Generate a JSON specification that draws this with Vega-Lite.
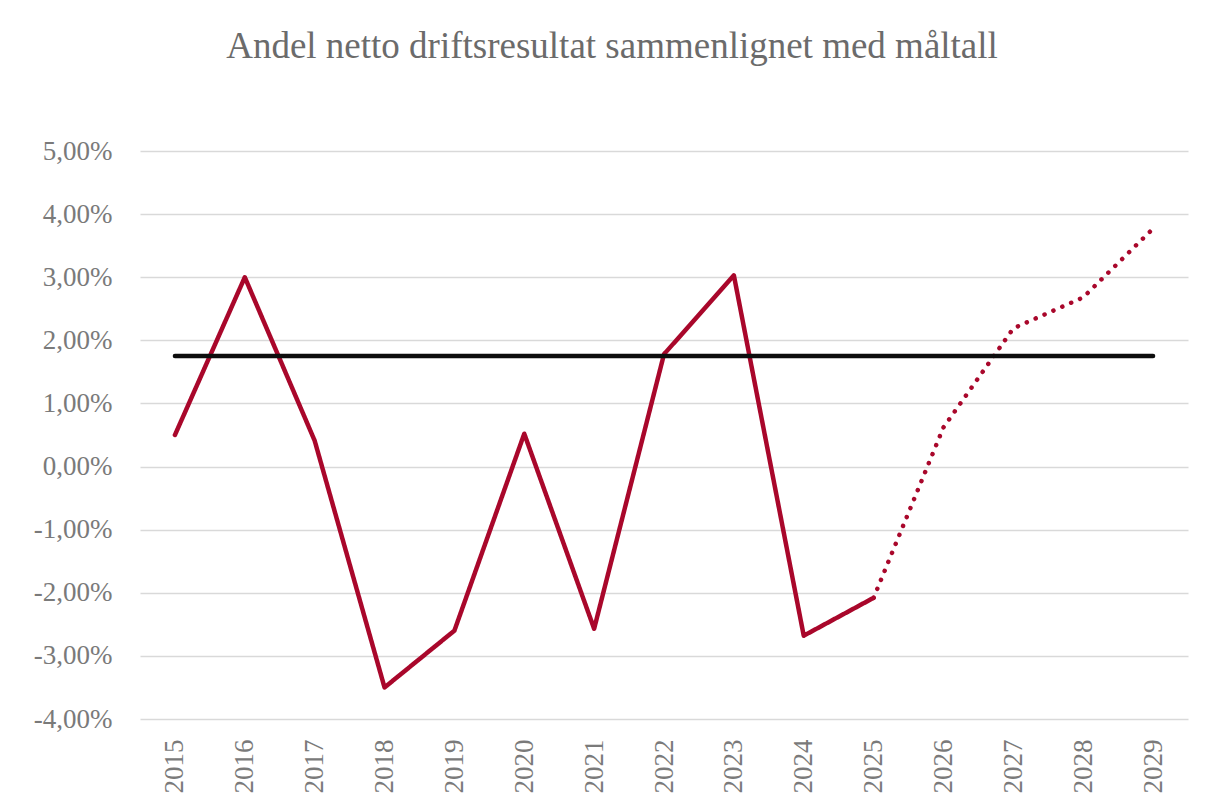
{
  "$schema": "https://vega.github.io/schema/vega-lite/v6.json",
  "autosize": {"type": "none"},
  "padding": {"left": 140, "top": 151, "right": 25, "bottom": 90},
  "width": 1048,
  "height": 568,
  "background": "white",
  "config": {
    "locale": {"number": {"decimal": ",", "thousands": " ", "grouping": [3], "currency": ["", " kr"], "minus": "-"}},
    "view": {"stroke": null},
    "font": "'Liberation Serif', 'DejaVu Serif', serif"
  },
  "title": {
    "text": "Andel netto driftsresultat sammenlignet med måltall",
    "font": "'Liberation Serif', 'DejaVu Serif', serif",
    "fontSize": 37,
    "fontWeight": "normal",
    "color": "#6b6b6b",
    "anchor": "middle",
    "dx": -52,
    "offset": 71
  },
  "data": {
    "values": [
      {"year": "2015", "value": 0.0050, "series": "actual"},
      {"year": "2016", "value": 0.0300, "series": "actual"},
      {"year": "2017", "value": 0.0041, "series": "actual"},
      {"year": "2018", "value": -0.0350, "series": "actual"},
      {"year": "2019", "value": -0.0260, "series": "actual"},
      {"year": "2020", "value": 0.0052, "series": "actual"},
      {"year": "2021", "value": -0.0257, "series": "actual"},
      {"year": "2022", "value": 0.0178, "series": "actual"},
      {"year": "2023", "value": 0.0303, "series": "actual"},
      {"year": "2024", "value": -0.0268, "series": "actual"},
      {"year": "2025", "value": -0.0208, "series": "actual"},
      {"year": "2025", "value": -0.0208, "series": "forecast"},
      {"year": "2026", "value": 0.0062, "series": "forecast"},
      {"year": "2027", "value": 0.0219, "series": "forecast"},
      {"year": "2028", "value": 0.0268, "series": "forecast"},
      {"year": "2029", "value": 0.0377, "series": "forecast"},
      {"year": "2015", "value": 0.0175, "series": "target"},
      {"year": "2016", "value": 0.0175, "series": "target"},
      {"year": "2017", "value": 0.0175, "series": "target"},
      {"year": "2018", "value": 0.0175, "series": "target"},
      {"year": "2019", "value": 0.0175, "series": "target"},
      {"year": "2020", "value": 0.0175, "series": "target"},
      {"year": "2021", "value": 0.0175, "series": "target"},
      {"year": "2022", "value": 0.0175, "series": "target"},
      {"year": "2023", "value": 0.0175, "series": "target"},
      {"year": "2024", "value": 0.0175, "series": "target"},
      {"year": "2025", "value": 0.0175, "series": "target"},
      {"year": "2026", "value": 0.0175, "series": "target"},
      {"year": "2027", "value": 0.0175, "series": "target"},
      {"year": "2028", "value": 0.0175, "series": "target"},
      {"year": "2029", "value": 0.0175, "series": "target"}
    ]
  },
  "mark": {"type": "line", "strokeWidth": 4.5, "strokeCap": "round", "strokeJoin": "round"},
  "encoding": {
    "x": {
      "field": "year",
      "type": "ordinal",
      "scale": {"type": "point", "padding": 0.5},
      "axis": {
        "title": null,
        "labelAngle": -90,
        "labelAlign": "right",
        "labelBaseline": "middle",
        "labelFont": "'Liberation Serif', 'DejaVu Serif', serif",
        "labelFontSize": 27,
        "labelColor": "#7a7a7a",
        "labelPadding": 20,
        "ticks": false,
        "domain": false,
        "grid": false
      }
    },
    "y": {
      "field": "value",
      "type": "quantitative",
      "scale": {"domain": [-0.04, 0.05], "nice": false, "zero": false},
      "axis": {
        "title": null,
        "values": [-0.04, -0.03, -0.02, -0.01, 0, 0.01, 0.02, 0.03, 0.04, 0.05],
        "format": ".2%",
        "labelFont": "'Liberation Serif', 'DejaVu Serif', serif",
        "labelFontSize": 27,
        "labelColor": "#7a7a7a",
        "labelPadding": 28,
        "ticks": false,
        "domain": false,
        "grid": true,
        "gridColor": "#d9d9d9",
        "gridWidth": 1.3
      }
    },
    "color": {
      "field": "series",
      "type": "nominal",
      "scale": {"domain": ["actual", "forecast", "target"], "range": ["#a9072b", "#a9072b", "#0d0d0d"]},
      "legend": null
    },
    "strokeDash": {
      "field": "series",
      "type": "nominal",
      "scale": {"domain": ["actual", "forecast", "target"], "range": [[1, 0], [0.1, 9.6], [1, 0]]},
      "legend": null
    }
  }
}
